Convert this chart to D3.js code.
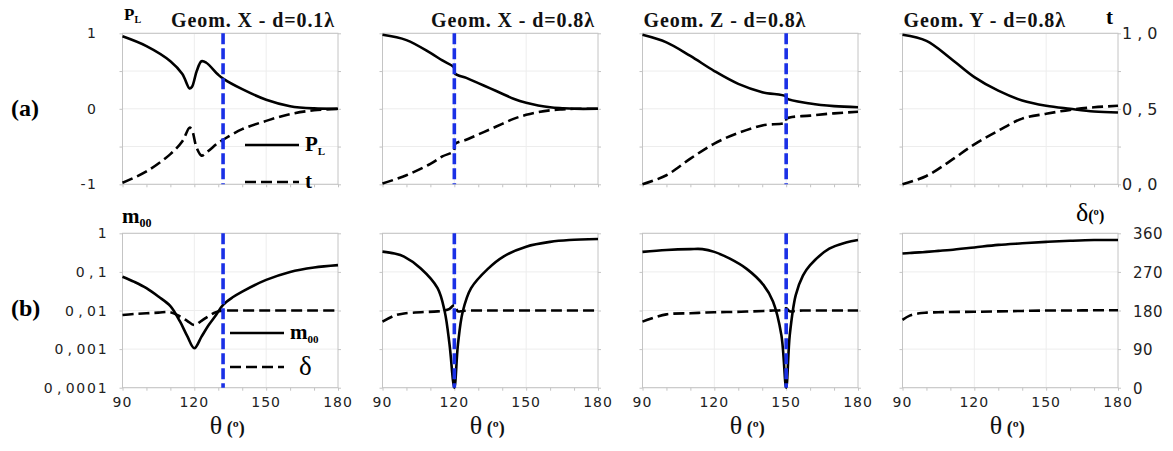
<!DOCTYPE html>
<html>
<head>
<meta charset="utf-8">
<script src="https://cdn.jsdelivr.net/npm/d3@7"></script>
<style>
  body { margin: 0; background: #fff; }
</style>
</head>
<body>
<div id="chart"></div>
<script>
// panel titles and blue marker angle (deg), null = no marker
const titles = ["Geom. X - d=0.1λ", "Geom. X - d=0.8λ", "Geom. Z - d=0.8λ", "Geom. Y - d=0.8λ"];
const markers = [132, 120, 150, null];

// row (a): P_L (left axis, -1..1) and t (right axis, 0..1)
const thetaA1 = [90, 100, 110, 115, 118, 119, 121, 123, 125, 130, 132, 140, 150, 160, 170, 180];
const plA1 = [0.96, 0.83, 0.63, 0.46, 0.27, 0.29, 0.5, 0.63, 0.61, 0.45, 0.4, 0.26, 0.12, 0.035, 0.005, 0];
const tA1 = [0.01, 0.085, 0.2, 0.285, 0.375, 0.36, 0.24, 0.19, 0.21, 0.275, 0.295, 0.365, 0.42, 0.465, 0.49, 0.5];

const thetaA2 = [90, 100, 110, 115, 119.8, 120.2, 125, 130, 135, 140, 145, 150, 155, 160, 165, 170, 180];
const plA2 = [0.98, 0.91, 0.74, 0.64, 0.55, 0.47, 0.41, 0.34, 0.27, 0.2, 0.13, 0.08, 0.045, 0.02, 0.008, 0, 0];
const tA2 = [0.005, 0.06, 0.135, 0.185, 0.22, 0.265, 0.295, 0.33, 0.365, 0.4, 0.435, 0.46, 0.478, 0.49, 0.496, 0.5, 0.5];

const thetaA3 = [90, 100, 110, 120, 130, 140, 149.8, 150.2, 160, 170, 180];
const plA3 = [0.98, 0.88, 0.7, 0.5, 0.33, 0.22, 0.165, 0.135, 0.07, 0.035, 0.02];
const tA3 = [0.0, 0.06, 0.17, 0.27, 0.34, 0.39, 0.41, 0.435, 0.455, 0.47, 0.48];

const thetaA4 = [90, 100, 110, 120, 130, 140, 150, 160, 170, 180];
const plA4 = [0.98, 0.9, 0.67, 0.42, 0.24, 0.11, 0.04, 0.0, -0.035, -0.05];
const tA4 = [0.0, 0.055, 0.155, 0.265, 0.355, 0.435, 0.467, 0.493, 0.51, 0.52];

// row (b): m00 (left log axis) and delta (right axis, deg)
const thetaB1 = [90, 95, 100, 105, 110, 114, 117, 120, 123, 126, 129, 132, 136, 140, 150, 160, 170, 180];
const mB1 = [0.075, 0.055, 0.038, 0.023, 0.013, 0.0052, 0.0022, 0.00105, 0.0021, 0.0042, 0.0075, 0.014, 0.022, 0.031, 0.062, 0.1, 0.13, 0.15];
const dB1 = [169.5, 172, 173.5, 175, 176, 166, 156, 146, 156, 167, 176, 179.5, 180, 180, 180, 180, 180, 180];

const thetaB2 = [90, 95, 99, 106, 113, 116, 118, 120, 121.5, 123.5, 127, 134, 140.5, 150, 160, 168, 180];
const mB2 = [0.335, 0.3, 0.25, 0.123, 0.038, 0.0093, 0.0013, 0.0001, 0.0013, 0.0093, 0.038, 0.12, 0.25, 0.45, 0.6, 0.67, 0.71];
const dB2 = [154, 168, 173, 176, 178, 180, 184, 193, 178, 179, 180, 180, 180, 180, 180, 180, 180];

const thetaB3 = [90, 100, 110, 115, 120, 126.5, 133.5, 140.5, 144.5, 148, 150, 151.5, 154, 157, 160, 168, 175, 180];
const mB3 = [0.33, 0.37, 0.39, 0.39, 0.33, 0.22, 0.12, 0.046, 0.017, 0.0023, 0.0001, 0.0023, 0.025, 0.08, 0.15, 0.4, 0.58, 0.67];
const dB3 = [154, 171, 173.5, 175, 176, 176.5, 177.5, 179, 180, 181, 185, 178, 179, 180, 180, 180, 180, 180];

const thetaB4 = [90, 93, 97, 100, 105, 110, 120, 130, 140, 150, 160, 170, 180];
const mB4 = [0.3, 0.31, 0.32, 0.33, 0.35, 0.37, 0.43, 0.5, 0.55, 0.6, 0.64, 0.67, 0.67];
const dB4 = [158, 168, 173.5, 175, 176, 176.5, 177, 178, 179, 180, 180, 180.5, 180.6];

// tick labels
const xTickLabels = [90, 120, 150, 180];
const plTicks = [1, 0, -1];
const plTickLabels = ["1", "0", "-1"];
const tTicks = [1, 0.5, 0];
const tTickLabels = ["1,0", "0,5", "0,0"];
const mTicks = [1, 0.1, 0.01, 0.001, 0.0001];
const mTickLabels = ["1", "0,1", "0,01", "0,001", "0,0001"];
const dTicks = [360, 270, 180, 90, 0];

const rowA = [thetaA1, thetaA2, thetaA3, thetaA4].map((th, i) => ({
  theta: th, pl: [plA1, plA2, plA3, plA4][i], t: [tA1, tA2, tA3, tA4][i]
}));
const rowB = [thetaB1, thetaB2, thetaB3, thetaB4].map((th, i) => ({
  theta: th, m: [mB1, mB2, mB3, mB4][i], d: [dB1, dB2, dB3, dB4][i]
}));

// layout
const width = 1173, height = 451;
const panelW = 215.5, panelStep = 260, firstLeft = 122.5;
const topA = 33.3, botA = 184.3, topB = 233.3, botB = 387.7;

const serif = "'Liberation Serif', 'Times New Roman', serif";
const sans = "'DejaVu Sans', Verdana, sans-serif";
const gridColor = "#ededed", frameColor = "#c4c4c4", blue = "#1a30e6";
const dash = "11,5";
const curve = d3.curveCatmullRom.alpha(0.5);

const svg = d3.select("#chart").append("svg")
  .attr("width", width).attr("height", height)
  .style("background", "#ffffff");

// tick label with a wide comma, like the original
function tickText(sel, s, ls, commaGap) {
  sel.style("letter-spacing", ls + "px");
  const parts = s.split(",");
  sel.append("tspan").text(parts[0]);
  if (parts.length > 1) {
    sel.append("tspan").text(",").attr("dx", commaGap);
    sel.append("tspan").text(parts[1]).attr("dx", commaGap);
  }
}

function frame(g, x, y, yTickVals) {
  const [x0, x1] = x.range();
  const [y1, y0] = y.range();
  // faint grid
  g.selectAll(".vg").data([120, 150]).join("line")
    .attr("x1", d => x(d)).attr("x2", d => x(d)).attr("y1", y0).attr("y2", y1)
    .attr("stroke", gridColor).attr("stroke-width", 1);
  g.selectAll(".hg").data(yTickVals).join("line")
    .attr("x1", x0).attr("x2", x1).attr("y1", d => y(d)).attr("y2", d => y(d))
    .attr("stroke", gridColor).attr("stroke-width", 1);
  g.append("rect").attr("x", x0).attr("y", y0).attr("width", x1 - x0).attr("height", y1 - y0)
    .attr("fill", "none").attr("stroke", frameColor).attr("stroke-width", 1);
  // small ticks
  const xa = g.append("g").attr("transform", `translate(0,${y1})`)
    .call(d3.axisBottom(x).tickValues(d3.range(90, 181, 10)).tickSize(3).tickFormat(""));
  const ya = g.append("g").attr("transform", `translate(${x0},0)`)
    .call(d3.axisLeft(y).tickValues(yTickVals).tickSize(3).tickFormat(""));
  const yb = g.append("g").attr("transform", `translate(${x1},0)`)
    .call(d3.axisRight(y).tickValues(yTickVals).tickSize(3).tickFormat(""));
  [xa, ya, yb].forEach(a => {
    a.select(".domain").remove();
    a.selectAll("line").attr("stroke", frameColor);
  });
}

function drawMarker(g, x, th, y0, y1) {
  if (th == null) return;
  g.append("line")
    .attr("x1", x(th)).attr("x2", x(th)).attr("y1", y0).attr("y2", y1)
    .attr("stroke", blue).attr("stroke-width", 3.6).attr("stroke-dasharray", "11,4");
}

for (let i = 0; i < 4; i++) {
  const left = firstLeft + i * panelStep;
  const x = d3.scaleLinear().domain([90, 180]).range([left, left + panelW]);

  // ---- row (a)
  const yPL = d3.scaleLinear().domain([-1, 1]).range([botA, topA]);
  const yT = d3.scaleLinear().domain([0, 1]).range([botA, topA]);
  const ga = svg.append("g");
  frame(ga, x, yPL, [-1, -0.5, 0, 0.5, 1]);

  const dA = rowA[i];
  const plLine = d3.line().x((d, k) => x(dA.theta[k])).y(d => yPL(d)).curve(curve);
  const tLine = d3.line().x((d, k) => x(dA.theta[k])).y(d => yT(d)).curve(curve);
  ga.append("path").attr("d", tLine(dA.t)).attr("fill", "none")
    .attr("stroke", "#000").attr("stroke-width", 2.6).attr("stroke-dasharray", dash);
  ga.append("path").attr("d", plLine(dA.pl)).attr("fill", "none")
    .attr("stroke", "#000").attr("stroke-width", 2.6);
  drawMarker(ga, x, markers[i], topA, botA);

  // ---- row (b)
  const yM = d3.scaleLog().domain([1e-4, 1]).range([botB, topB]);
  const yD = d3.scaleLinear().domain([0, 360]).range([botB, topB]);
  const gb = svg.append("g");
  frame(gb, x, yM, mTicks);

  const dB = rowB[i];
  const mLine = d3.line().x((d, k) => x(dB.theta[k])).y(d => yM(d)).curve(curve);
  const dLine = d3.line().x((d, k) => x(dB.theta[k])).y(d => yD(d)).curve(curve);
  gb.append("path").attr("d", dLine(dB.d)).attr("fill", "none")
    .attr("stroke", "#000").attr("stroke-width", 2.6).attr("stroke-dasharray", dash);
  gb.append("path").attr("d", mLine(dB.m)).attr("fill", "none")
    .attr("stroke", "#000").attr("stroke-width", 2.6);
  drawMarker(gb, x, markers[i], topB, botB);

  // x tick labels
  gb.selectAll(".xl").data(xTickLabels).join("text")
    .attr("x", d => x(d)).attr("y", 407)
    .attr("text-anchor", "middle")
    .style("font-family", sans).style("font-size", "14px").attr("fill", "#222")
    .each(function (d) { tickText(d3.select(this), String(d), 1, 0); });

  // theta label
  const th = gb.append("text").attr("x", left + panelW / 2 - 3).attr("y", 434)
    .attr("text-anchor", "middle").style("font-family", serif).attr("fill", "#111");
  th.append("tspan").text("θ").style("font-size", "26px");
  th.append("tspan").text(" (º)").style("font-size", "18px").style("font-weight", "bold");

  // title
  const right = i < 2;
  svg.append("text")
    .attr("x", right ? left + panelW - 3 : left + 1).attr("y", 27)
    .attr("text-anchor", right ? "end" : "start")
    .style("font-family", serif).style("font-size", "20px").style("font-weight", "bold")
    .style("letter-spacing", "0.9px").attr("fill", "#111")
    .text(titles[i]);

  // left axis labels
  if (i === 0) {
    ga.selectAll(".yl").data(plTicks).join("text")
      .attr("x", left - 25).attr("y", d => yPL(d) + 5).attr("text-anchor", "end")
      .style("font-family", sans).style("font-size", "14px").attr("fill", "#222")
      .each(function (d, k) { tickText(d3.select(this), plTickLabels[k], 1.5, 0); });
    gb.selectAll(".yl").data(mTicks).join("text")
      .attr("x", left - 14).attr("y", d => yM(d) + 5).attr("text-anchor", "end")
      .style("font-family", sans).style("font-size", "14px").attr("fill", "#222")
      .each(function (d, k) { tickText(d3.select(this), mTickLabels[k], 1.8, 2.5); });
  }
  // right axis labels
  if (i === 3) {
    ga.selectAll(".yr").data(tTicks).join("text")
      .attr("x", left + panelW + 4).attr("y", d => yT(d) + 6)
      .style("font-family", sans).style("font-size", "16px").attr("fill", "#222")
      .each(function (d, k) { tickText(d3.select(this), tTickLabels[k], 2, 3); });
    gb.selectAll(".yr").data(dTicks).join("text")
      .attr("x", left + panelW + 15).attr("y", d => yD(d) + 6)
      .style("font-family", sans).style("font-size", "15px").attr("fill", "#222")
      .each(function (d) { tickText(d3.select(this), String(d), 0.5, 0); });
  }
}

// row labels
svg.append("text").attr("x", 11).attr("y", 116)
  .style("font-family", serif).style("font-size", "24px").style("font-weight", "bold").text("(a)");
svg.append("text").attr("x", 11).attr("y", 316)
  .style("font-family", serif).style("font-size", "24px").style("font-weight", "bold").text("(b)");

// axis titles
const pl = svg.append("text").attr("x", 124).attr("y", 20)
  .style("font-family", serif).style("font-weight", "bold");
pl.append("tspan").text("P").style("font-size", "17px");
pl.append("tspan").text("L").style("font-size", "10px").attr("dy", 3);

svg.append("text").attr("x", 1106).attr("y", 24)
  .style("font-family", serif).style("font-size", "21px").style("font-weight", "bold").text("t");

const m00 = svg.append("text").attr("x", 122).attr("y", 223)
  .style("font-family", serif).style("font-weight", "bold");
m00.append("tspan").text("m").style("font-size", "21px");
m00.append("tspan").text("00").style("font-size", "12px").attr("dy", 4);

const dl = svg.append("text").attr("x", 1076).attr("y", 221)
  .style("font-family", serif);
dl.append("tspan").text("δ").style("font-size", "26px");
dl.append("tspan").text("(º)").style("font-size", "16px").style("font-weight", "bold");

// legends in first column
function legend(x0, y, dashed, label, sub, fs) {
  svg.append("line").attr("x1", x0).attr("x2", x0 + 54).attr("y1", y).attr("y2", y)
    .attr("stroke", "#000").attr("stroke-width", 2.6)
    .attr("stroke-dasharray", dashed ? dash : null);
  const t = svg.append("text").attr("x", x0 + 60).attr("y", y + 6)
    .style("font-family", serif).style("font-weight", "bold");
  t.append("tspan").text(label).style("font-size", fs + "px");
  if (sub) t.append("tspan").text(sub).style("font-size", "11px").attr("dy", 4);
}
legend(245, 145, false, "P", "L", 21);
legend(245, 182, true, "t", null, 21);
legend(230, 333, false, "m", "00", 21);
svg.append("line").attr("x1", 230).attr("x2", 284).attr("y1", 367).attr("y2", 367)
  .attr("stroke", "#000").attr("stroke-width", 2.6).attr("stroke-dasharray", dash);
svg.append("text").attr("x", 299).attr("y", 375)
  .style("font-family", serif).style("font-size", "27px").text("δ");
</script>
</body>
</html>
